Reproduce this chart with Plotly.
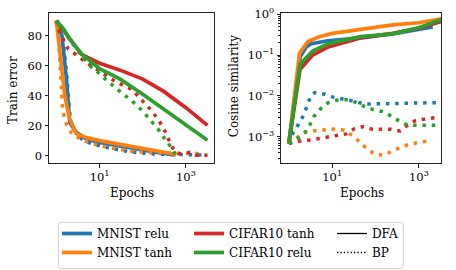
import plotly.graph_objects as go

# ---------------- data: left panel (train error %) ----------------
mnist_relu_dfa_ep = [1, 1.35, 1.7, 2.05, 2.9, 5, 10, 30, 80, 200, 550]
mnist_relu_dfa_err = [90, 80, 52, 22, 15.5, 11, 8.8, 6.3, 4.3, 2.3, 0.5]
mnist_relu_bp_ep = [1, 1.4, 1.75, 2.1, 2.6, 3.8, 5, 11, 32, 62, 200, 600, 2400]
mnist_relu_bp_err = [90, 80, 53, 24, 17, 11.3, 9, 6.2, 3.6, 2.2, 1.0, 0.6, 0.5]
mnist_tanh_dfa_ep = [1, 1.2, 1.57, 2.0, 2.9, 5, 10, 30, 80, 200, 400, 600]
mnist_tanh_dfa_err = [90, 69, 40, 25, 14.7, 12, 10, 7.5, 5.5, 3.5, 1.7, 0.8]
mnist_tanh_bp_ep = [1, 1.12, 1.25, 1.4, 1.7, 2.2, 3.8, 9, 23, 57, 150, 500, 2400]
mnist_tanh_bp_err = [90, 78, 55, 30, 21, 15.5, 10.5, 7, 4.7, 2.8, 2.0, 1.5, 1.3]
cifar_tanh_dfa_ep = [1, 2, 3.8, 10, 30, 100, 300, 1000, 3160]
cifar_tanh_dfa_err = [90, 78.5, 67.5, 61.6, 57, 51, 43, 32, 20.2]
cifar_tanh_bp_ep = [1, 1.2, 1.87, 4.2, 10, 23, 57, 81, 115, 160, 234, 309, 372, 437, 525, 690, 980, 1290, 1700, 3160]
cifar_tanh_bp_err = [90, 82, 71.3, 63.6, 56.3, 49.5, 44, 39.1, 34.7, 30, 23.6, 18, 12.5, 8, 3.6, 1.3, 1.3, 2.5, 0.3, 0.3]
cifar_relu_dfa_ep = [1, 1.5, 2, 3.8, 10, 30, 100, 300, 1000, 3160]
cifar_relu_dfa_err = [90, 84, 78, 68, 58, 51, 41, 31, 20.5, 10.3]
cifar_relu_bp_ep = [1, 2, 3.5, 6.5, 10, 14.5, 30, 47, 66, 105, 150, 235, 340, 480, 575, 650]
cifar_relu_bp_err = [90, 78, 68, 59, 54.7, 50.2, 42.5, 38.5, 34.7, 29, 23.6, 17, 10.3, 4.7, 0.5, 0.2]

# ---------------- data: right panel (cosine similarity) ----------------
mnist_relu_dfa_cos_ep = [1, 1.82, 2.51, 3.31, 7.94, 44.7, 251, 1000, 2089]
mnist_relu_dfa_cos = [6.8e-4, 0.089, 0.158, 0.19, 0.224, 0.263, 0.331, 0.417, 0.49]
mnist_tanh_dfa_cos_ep = [1, 1.76, 2.75, 5.13, 10, 42.7, 251, 1000, 3548]
mnist_tanh_dfa_cos = [6.8e-4, 0.11, 0.214, 0.282, 0.339, 0.427, 0.55, 0.617, 0.78]
cifar_tanh_dfa_cos_ep = [1, 1.82, 3.55, 8.13, 44.7, 251, 1000, 3548]
cifar_tanh_dfa_cos = [6.8e-4, 0.0447, 0.1, 0.158, 0.263, 0.339, 0.457, 0.676]
cifar_relu_dfa_cos_ep = [1, 1.82, 3.55, 8.13, 44.7, 251, 1000, 3548]
cifar_relu_dfa_cos = [6.8e-4, 0.060, 0.126, 0.19, 0.282, 0.331, 0.468, 0.76]

mnist_relu_bp_cos_ep = [1, 1.26, 1.64, 2.14, 2.63, 3.16, 3.98, 6.76, 10.5, 17.8, 31.6, 56.2, 126, 575, 2512]
mnist_relu_bp_cos = [6.8e-4, 1.26e-3, 1.95e-3, 3.2e-3, 5.6e-3, 9.5e-3, 1.2e-2, 1.1e-2, 9.3e-3, 8.5e-3, 7.4e-3, 6.3e-3, 6.3e-3, 6.6e-3, 6.8e-3]
cifar_relu_bp_cos_ep = [1, 1.58, 2.34, 3.05, 3.85, 5.5, 8.13, 12.6, 19.5, 28.2, 36.3, 55, 89, 148, 229, 355, 562, 933, 2630]
cifar_relu_bp_cos = [6.8e-4, 8.9e-4, 1.26e-3, 1.95e-3, 3.2e-3, 4.9e-3, 6.8e-3, 7.8e-3, 8.1e-3, 7.6e-3, 6.8e-3, 5.5e-3, 4.6e-3, 4.1e-3, 3.2e-3, 2.4e-3, 1.9e-3, 1.9e-3, 1.9e-3]
cifar_tanh_bp_cos_ep = [1, 1.82, 3.09, 5.13, 8.2, 13.2, 21.4, 33.1, 53.7, 85, 141, 229, 372, 562, 851, 1413, 2291]
cifar_tanh_bp_cos = [6.8e-4, 7.8e-4, 8.3e-4, 9.1e-4, 9.5e-4, 1.05e-3, 1.17e-3, 1.58e-3, 1.78e-3, 1.51e-3, 1.51e-3, 1.51e-3, 1.38e-3, 1.95e-3, 2.5e-3, 2.7e-3, 2.9e-3]
mnist_tanh_bp_cos_ep = [1, 1.26, 1.64, 2.57, 4.37, 7.41, 11.5, 19, 28.8, 43.6, 61, 93, 151, 240, 389, 631, 1023, 1660]
mnist_tanh_bp_cos = [6.8e-4, 7.9e-4, 1.0e-3, 1.32e-3, 1.41e-3, 1.48e-3, 1.55e-3, 1.45e-3, 1.07e-3, 7.4e-4, 5.2e-4, 3.8e-4, 3.5e-4, 4.4e-4, 5.6e-4, 6.6e-4, 7.1e-4, 7.9e-4]

# ---------------- labels / styles ----------------
BLUE, ORANGE, RED, GREEN = "#1f77b4", "#ff7f0e", "#d62728", "#2ca02c"
FONT = "DejaVu Serif"
W, H = 456, 270
SOLID_W = 3.7
DOT_W = 3.5
DOT = "3.5px,5.8px"

fig = go.Figure()

series = [
    ("MNIST relu", BLUE, "legend",
     (mnist_relu_dfa_ep, mnist_relu_dfa_err), (mnist_relu_bp_ep, mnist_relu_bp_err),
     (mnist_relu_dfa_cos_ep, mnist_relu_dfa_cos), (mnist_relu_bp_cos_ep, mnist_relu_bp_cos)),
    ("MNIST tanh", ORANGE, "legend",
     (mnist_tanh_dfa_ep, mnist_tanh_dfa_err), (mnist_tanh_bp_ep, mnist_tanh_bp_err),
     (mnist_tanh_dfa_cos_ep, mnist_tanh_dfa_cos), (mnist_tanh_bp_cos_ep, mnist_tanh_bp_cos)),
    ("CIFAR10 tanh", RED, "legend2",
     (cifar_tanh_dfa_ep, cifar_tanh_dfa_err), (cifar_tanh_bp_ep, cifar_tanh_bp_err),
     (cifar_tanh_dfa_cos_ep, cifar_tanh_dfa_cos), (cifar_tanh_bp_cos_ep, cifar_tanh_bp_cos)),
    ("CIFAR10 relu", GREEN, "legend2",
     (cifar_relu_dfa_ep, cifar_relu_dfa_err), (cifar_relu_bp_ep, cifar_relu_bp_err),
     (cifar_relu_dfa_cos_ep, cifar_relu_dfa_cos), (cifar_relu_bp_cos_ep, cifar_relu_bp_cos)),
]

for name, color, leg, dfa, bp, dfa_c, bp_c in series:
    fig.add_trace(go.Scatter(x=dfa[0], y=dfa[1], mode="lines", name=name, legend=leg,
                             line=dict(color=color, width=SOLID_W), xaxis="x", yaxis="y"))
    fig.add_trace(go.Scatter(x=bp[0], y=bp[1], mode="lines", showlegend=False,
                             line=dict(color=color, width=DOT_W, dash=DOT), xaxis="x", yaxis="y"))
for name, color, leg, dfa, bp, dfa_c, bp_c in series:
    fig.add_trace(go.Scatter(x=dfa_c[0], y=dfa_c[1], mode="lines", showlegend=False,
                             line=dict(color=color, width=SOLID_W), xaxis="x2", yaxis="y2"))
    fig.add_trace(go.Scatter(x=bp_c[0], y=bp_c[1], mode="lines", showlegend=False,
                             line=dict(color=color, width=DOT_W, dash=DOT), xaxis="x2", yaxis="y2"))

# style legend entries (DFA solid / BP dotted)
fig.add_trace(go.Scatter(x=[None], y=[None], mode="lines", name="DFA", legend="legend3",
                         line=dict(color="black", width=1.3), xaxis="x", yaxis="y"))
fig.add_trace(go.Scatter(x=[None], y=[None], mode="lines", name="BP", legend="legend3",
                         line=dict(color="black", width=1.3, dash="1.3px,2.1px"), xaxis="x", yaxis="y"))

def px_x(v):
    return v / W

def px_y(v):
    return 1 - v / H

tick_font = dict(family=FONT, size=11.5, color="black")
common = dict(showline=True, linecolor="#222222", linewidth=1, mirror=True,
              ticks="outside", ticklen=3.5, tickwidth=0.9, tickcolor="#222222",
              showgrid=False, zeroline=False, tickfont=tick_font)

minor_vals = [m * 10.0 ** k for k in (-4, -3, -2, -1) for m in range(2, 10)]

fig.update_layout(
    width=W, height=H, autosize=False,
    margin=dict(l=0, r=0, t=0, b=0, autoexpand=False),
    paper_bgcolor="white", plot_bgcolor="white",
    hovermode=False,
    xaxis=dict(type="log", domain=[px_x(49), px_x(214)], range=[-0.17, 3.65],
               tickvals=[10, 1000], ticktext=["10<sup>1</sup>", "10<sup>3</sup>"],
               anchor="y", **common),
    yaxis=dict(domain=[px_y(163), px_y(13)], range=[-4.9, 95.1],
               tickvals=[0, 20, 40, 60, 80], anchor="x", **common),
    xaxis2=dict(type="log", domain=[px_x(281), px_x(441)], range=[-0.18, 3.51],
                tickvals=[10, 1000], ticktext=["10<sup>1</sup>", "10<sup>3</sup>"],
                anchor="y2", **common),
    yaxis2=dict(type="log", domain=[px_y(163), px_y(13)], range=[-3.645, 0.03],
                tickvals=[1e-3, 1e-2, 1e-1, 1],
                ticktext=["10<sup>\u22123</sup>", "10<sup>\u22122</sup>", "10<sup>\u22121</sup>", "10<sup>0</sup>"],
                minor=dict(tickvals=minor_vals, ticks="outside", ticklen=2, tickwidth=0.7, tickcolor="#222222"),
                anchor="x2", **common),
    showlegend=True,
)

leg_common = dict(orientation="v", xanchor="left", yanchor="top", bgcolor="rgba(0,0,0,0)",
                  borderwidth=0, font=dict(family=FONT, size=12, color="black"),
                  tracegroupgap=0, itemclick=False, itemdoubleclick=False)
fig.update_layout(
    legend=dict(x=px_x(57), y=px_y(219), **leg_common),
    legend2=dict(x=px_x(189), y=px_y(219), **leg_common),
    legend3=dict(x=px_x(332), y=px_y(219), **leg_common),
)

# legend frame (rounded rectangle)
x0, x1, y0, y1, r = 58.3, 403.3, 222.3, 268.5, 3
pts = (f"M {px_x(x0 + r)},{px_y(y0)} L {px_x(x1 - r)},{px_y(y0)} "
       f"Q {px_x(x1)},{px_y(y0)} {px_x(x1)},{px_y(y0 + r)} L {px_x(x1)},{px_y(y1 - r)} "
       f"Q {px_x(x1)},{px_y(y1)} {px_x(x1 - r)},{px_y(y1)} L {px_x(x0 + r)},{px_y(y1)} "
       f"Q {px_x(x0)},{px_y(y1)} {px_x(x0)},{px_y(y1 - r)} L {px_x(x0)},{px_y(y0 + r)} "
       f"Q {px_x(x0)},{px_y(y0)} {px_x(x0 + r)},{px_y(y0)} Z")
fig.add_shape(type="path", path=pts, xref="paper", yref="paper",
              line=dict(color="#d0d0d0", width=1), fillcolor="rgba(0,0,0,0)", layer="below")

title_font = dict(family=FONT, size=12, color="black")
fig.add_annotation(text="Train error", x=px_x(13), y=px_y(90), xref="paper", yref="paper",
                   textangle=-90, showarrow=False, font=title_font, xanchor="center", yanchor="middle")
fig.add_annotation(text="Epochs", x=px_x(131.5), y=px_y(192.7), xref="paper", yref="paper",
                   showarrow=False, font=title_font, xanchor="center", yanchor="middle")
fig.add_annotation(text="Cosine similarity", x=px_x(234.3), y=px_y(86), xref="paper", yref="paper",
                   textangle=-90, showarrow=False, font=title_font, xanchor="center", yanchor="middle")
fig.add_annotation(text="Epochs", x=px_x(362), y=px_y(192.7), xref="paper", yref="paper",
                   showarrow=False, font=title_font, xanchor="center", yanchor="middle")

fig.write_html("out.html", config={"displayModeBar": False, "staticPlot": False},
               post_script="document.body.style.margin='0px';")
